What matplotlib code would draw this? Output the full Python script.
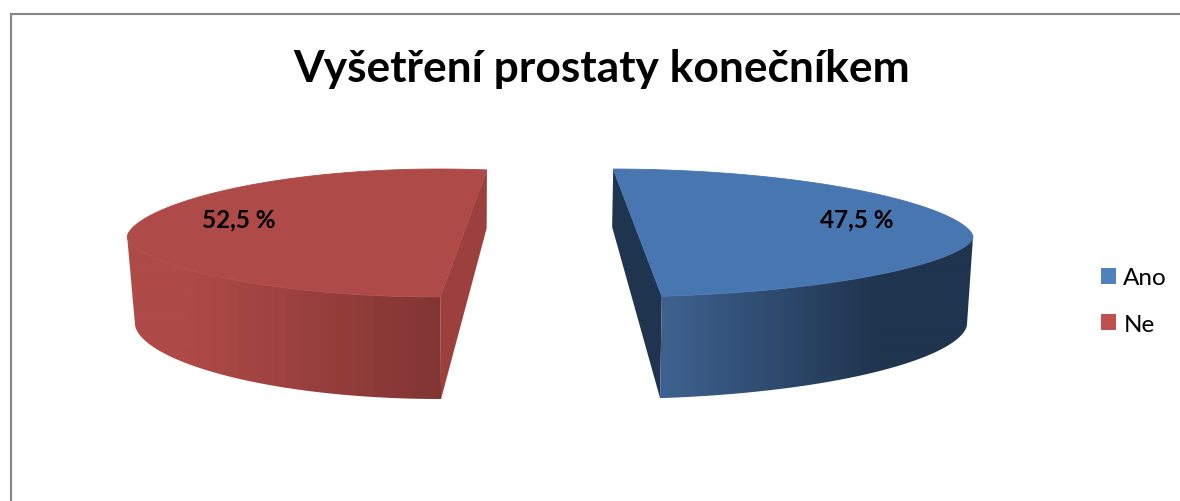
import numpy as np
import matplotlib
matplotlib.use('Agg')
import matplotlib.pyplot as plt
from matplotlib.patches import Polygon, Patch

categories = ['Ano', 'Ne']
shares = [47.5, 52.5]
share_labels = ['47,5 %', '52,5 %']
title = 'Vyšetření prostaty konečníkem'

top_colors = ['#4876B0', '#AE4A47']
cut_colors = ['#1F344F', '#9C403D']
key_colors = ['#4F81BD', '#C0504D']
wall_stops = [['#3E6290', '#1F344E'], ['#AE4A47', '#813533']]

# start angle of each slice and the direction it sweeps in
start_angle = [89.34, 81.2]
direction = [-1, 1]
# x centre, y centre, x radius, back y radius, front y radius, flattening
top_rim = [(609, 238, 364, 68, 60, 1.18), (439.2, 238, 312, 68, 60, 1.18)]
low_rim = [(608, 325, 359, 97, 75, 1.1), (440, 325, 305, 97, 75, 1.1)]
# x range of the shading on the outer wall
wall_span = [(660, 880), (190, 440)]
label_pos = [(857, 220), (239, 220)]


def rim_points(rim, a0, a1, n=300):
    cx, cy, rx, ry_back, ry_front, p = rim
    t = np.radians(np.linspace(a0, a1, n))
    s = np.sin(t)
    ry = np.where(s > 0, ry_back, ry_front)
    return np.column_stack([cx + rx * np.cos(t), cy - ry * np.sign(s) * np.abs(s) ** p])


def hex_rgb(c):
    return np.array(matplotlib.colors.to_rgb(c))


fig = plt.figure(figsize=(11.8, 5.02), dpi=100)
ax = fig.add_axes([0, 0, 1, 1])
ax.set_xlim(0, 1180)
ax.set_ylim(502, 0)
ax.axis('off')

# chart frame, runs off the right and bottom
ax.plot([11, 11, 1180], [502, 15, 15], color='#868686', lw=1.5, solid_joinstyle='miter')

for i, share in enumerate(shares):
    sweep = share / sum(shares) * 360
    a0 = start_angle[i]
    a1 = a0 + direction[i] * sweep
    top = rim_points(top_rim[i], a0, a1)
    low = rim_points(low_rim[i], a0, a1)

    # flat cut face
    cut = np.array([top[0], low[0], low[-1], top[-1]])
    ax.add_patch(Polygon(cut, closed=True, fc=cut_colors[i], ec='none', zorder=2))

    # outer wall: only the part of the rim in front of the y centre
    front_top = top[top[:, 1] >= top_rim[i][1]]
    front_low = low[low[:, 1] >= low_rim[i][1]]
    wall = np.vstack([front_top, front_low[::-1]])
    wall_patch = Polygon(wall, closed=True, fc='none', ec='none', zorder=3)
    ax.add_patch(wall_patch)

    x0, x1 = wall_span[i]
    f = np.clip((np.arange(1180) - x0) / (x1 - x0), 0, 1)[None, :, None]
    grad = hex_rgb(wall_stops[i][0]) * (1 - f) + hex_rgb(wall_stops[i][1]) * f
    im = ax.imshow(grad, extent=[0, 1180, 502, 0], aspect='auto', zorder=3,
                   interpolation='bilinear')
    im.set_clip_path(wall_patch)

    # thin same-colour edge hides the seam against the wall
    ax.add_patch(Polygon(top, closed=True, fc=top_colors[i], ec=top_colors[i], lw=0.6, zorder=4))
    ax.text(*label_pos[i], share_labels[i], ha='center', va='center', fontsize=17.5,
            fontweight='bold', family='Lato', color='black', zorder=5)

ax.set_xlim(0, 1180)
ax.set_ylim(502, 0)

ax.text(602, 69, title, ha='center', va='center', fontsize=31.9, fontweight='bold',
        family='Lato', color='black')

handles = [Patch(fc=c, ec='none', label=l) for c, l in zip(key_colors, categories)]
ax.legend(handles=handles, loc='center left', bbox_to_anchor=(1101 / 1180, 1 - 302 / 502),
          frameon=False, prop={'family': 'Lato', 'size': 17.5}, handlelength=0.62,
          handleheight=0.62, handletextpad=0.3, labelspacing=1.05, borderpad=0, borderaxespad=0)

fig.savefig('out.png', dpi=100)
